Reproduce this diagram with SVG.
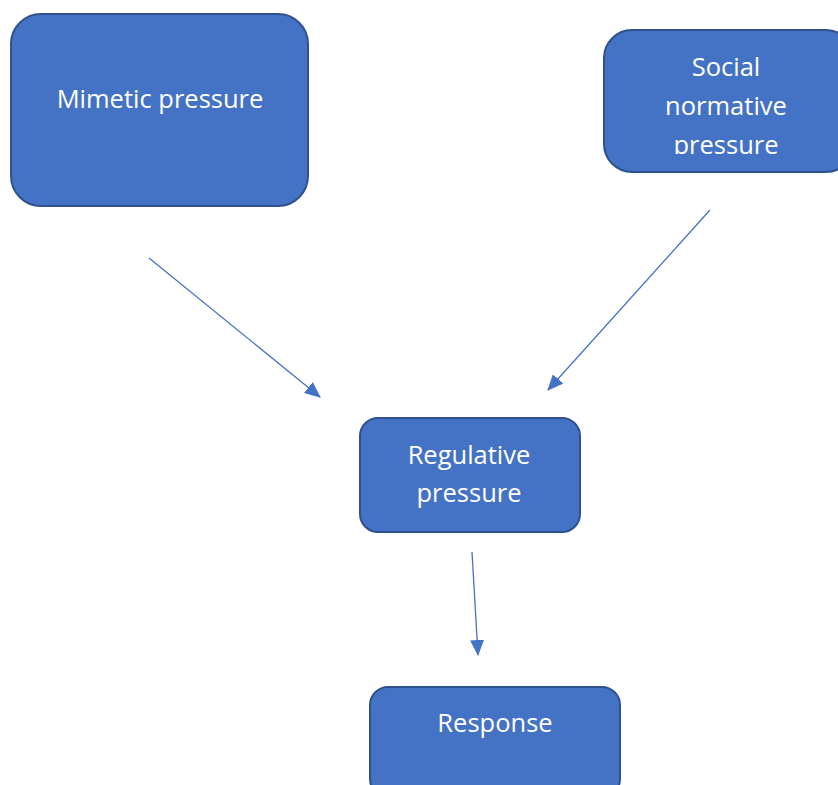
<svg xmlns="http://www.w3.org/2000/svg" width="838" height="785" viewBox="0 0 838 785">
<style>
.box{fill:#4472C4;stroke:#2F528F;stroke-width:2}
.lbl{fill:#fff;font-family:"Open Sans","Liberation Sans",sans-serif;font-size:25.5px;text-anchor:middle}
.con{stroke:#4472C4;stroke-width:1.3;fill:none}
</style>
<defs>
<marker id="ahb" markerWidth="16" markerHeight="14" refX="15" refY="7" orient="auto" markerUnits="userSpaceOnUse" viewBox="0 0 16 14">
<path d="M0,0 L16,7 L0,14 Z" fill="#4472C4"/>
</marker>
<clipPath id="socclip"><rect x="600" y="20" width="238" height="134"/></clipPath>
</defs>
<rect width="838" height="785" fill="#fff"/>
<g id="connectors">
<line class="con" x1="149" y1="258" x2="320" y2="397" marker-end="url(#ahb)"/>
<line class="con" x1="710" y1="210" x2="548" y2="390" marker-end="url(#ahb)"/>
<line class="con" x1="472" y1="552" x2="478" y2="655" marker-end="url(#ahb)"/>
</g>
<g id="mimetic">
<rect class="box" x="11" y="14" width="297" height="192" rx="30"/>
<text class="lbl" x="160" y="108">Mimetic pressure</text>
</g>
<g id="social">
<rect class="box" x="604" y="30" width="250" height="142" rx="28"/>
<g clip-path="url(#socclip)">
<text class="lbl" x="726" y="76">Social</text>
<text class="lbl" x="726" y="115">normative</text>
<text class="lbl" x="726" y="154">pressure</text>
</g>
</g>
<g id="regulative">
<rect class="box" x="360" y="418" width="220" height="114" rx="18"/>
<text class="lbl" x="469" y="464">Regulative</text>
<text class="lbl" x="469" y="502">pressure</text>
</g>
<g id="response">
<rect class="box" x="370" y="687" width="250" height="110" rx="18"/>
<text class="lbl" x="495" y="732">Response</text>
</g>
</svg>
